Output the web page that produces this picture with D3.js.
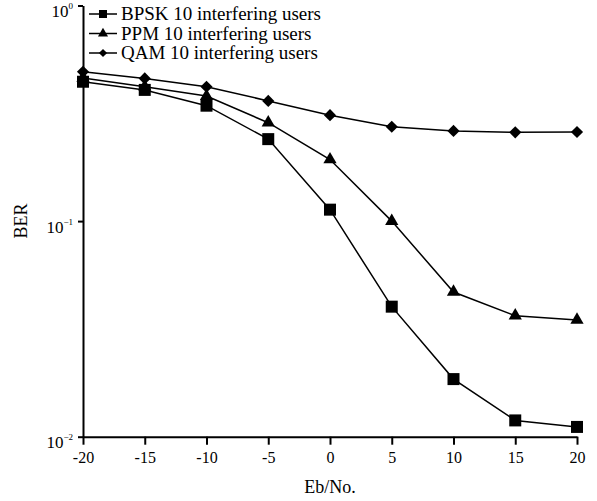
<!DOCTYPE html>
<meta charset="utf-8">
<head>
  <title>BER vs Eb/No</title>
  <style>
    body { margin: 0; background: white; }
    svg { display: block; }
    text { font-family: 'Liberation Serif', 'Times New Roman', serif; fill: black; }
    .axis path, .axis line { stroke: black; stroke-width: 2px; }
    .series path.line { fill: none; stroke: black; stroke-width: 1.5px; }
  </style>
</head>
<body>
<svg width="597" height="501"></svg>
<script src="https://cdn.jsdelivr.net/npm/d3@7"></script>
<script>

var ebno = [-20, -15, -10, -5, 0, 5, 10, 15, 20];

var bpsk = [0.443, 0.406, 0.343, 0.240, 0.113, 0.0401, 0.0185, 0.0119, 0.0111];
var ppm  = [0.461, 0.420, 0.380, 0.286, 0.193, 0.100, 0.0469, 0.0364, 0.0348];
var qam  = [0.493, 0.459, 0.420, 0.361, 0.310, 0.274, 0.262, 0.258, 0.259];

var seriesNames = ["BPSK 10 interfering users", "PPM 10 interfering users", "QAM 10 interfering users"];

var xTicks = [-20, -15, -10, -5, 0, 5, 10, 15, 20];
var yTicks = [1e-2, 1e-1, 1];
var yTickExp = ["\u22122", "\u22121", "0"];

var svg = d3.select("svg");

var x = d3.scaleLinear().domain([-20, 20]).range([83, 577]);
var y = d3.scaleLog().domain([1e-2, 1]).range([436.7, 5.5]);

// marker shapes: square, triangle, diamond (rotated square)
var shapes = [
  { type: d3.symbolSquare, size: 144, legendSize: 64, rot: 0 },
  { type: d3.symbolTriangle, size: 76, legendSize: 44, rot: 0 },
  { type: d3.symbolSquare, size: 74, legendSize: 34, rot: 45 }
];

var data = [bpsk, ppm, qam];

// x axis, ticks hanging below
var xAxis = svg.append("g")
    .attr("class", "axis")
    .attr("transform", "translate(0," + y(1e-2) + ")")
    .call(d3.axisBottom(x).tickValues(xTicks).tickSize(8).tickSizeOuter(0).tickFormat(d3.format("d")));
xAxis.selectAll("text")
    .attr("dy", null)
    .attr("y", 26)
    .style("font-size", "16px")
    .style("font-family", "'Liberation Serif', serif")
    .text(function(d) { return d < 0 ? "-" + (-d) : d; });

// y axis, log decades only
var yAxis = svg.append("g")
    .attr("class", "axis")
    .attr("transform", "translate(" + x(-20) + ",0)")
    .call(d3.axisLeft(y).tickValues(yTicks).tickSize(5).tickSizeOuter(0).tickFormat(""));
yAxis.selectAll(".tick text").remove();
yAxis.selectAll(".tick").each(function(d, i) {
  var t = d3.select(this).append("text")
      .attr("x", -10)
      .attr("y", 11)
      .attr("text-anchor", "end")
      .style("font-size", "17px")
      .style("font-family", "'Liberation Serif', serif");
  t.append("tspan").text("10");
  t.append("tspan")
      .attr("dy", -8)
      .style("font-size", "9px")
      .text(yTickExp[i]);
});

// axis titles
svg.append("text")
    .attr("x", x(0))
    .attr("y", 493)
    .attr("text-anchor", "middle")
    .style("font-size", "18px")
    .text("Eb/No.");

svg.append("text")
    .attr("transform", "translate(27," + y(0.1) + ") rotate(-90)")
    .attr("text-anchor", "middle")
    .style("font-size", "18px")
    .text("BER");

var line = d3.line()
    .x(function(d, i) { return x(ebno[i]); })
    .y(function(d) { return y(d); });

data.forEach(function(vals, k) {
  var g = svg.append("g").attr("class", "series");
  g.append("path")
      .attr("class", "line")
      .attr("d", line(vals));
  g.selectAll(".mark")
      .data(vals)
      .enter().append("path")
      .attr("class", "mark")
      .attr("fill", "black")
      .attr("transform", function(d, i) {
        return "translate(" + x(ebno[i]) + "," + y(d) + ") rotate(" + shapes[k].rot + ")";
      })
      .attr("d", d3.symbol().type(shapes[k].type).size(shapes[k].size));
});

// legend in the top left corner
var legendY = [14, 33.5, 53];
var legend = svg.append("g").attr("class", "legend");
seriesNames.forEach(function(name, k) {
  var row = legend.append("g").attr("transform", "translate(0," + legendY[k] + ")");
  row.append("line")
      .attr("x1", 89).attr("x2", 117)
      .attr("stroke", "black")
      .attr("stroke-width", 1.5);
  row.append("path")
      .attr("fill", "black")
      .attr("transform", "translate(103,0) rotate(" + shapes[k].rot + ")")
      .attr("d", d3.symbol().type(shapes[k].type).size(shapes[k].legendSize));
  row.append("text")
      .attr("x", 121)
      .attr("y", 6)
      .style("font-size", "19px")
      .text(name);
});

</script>
</body>
